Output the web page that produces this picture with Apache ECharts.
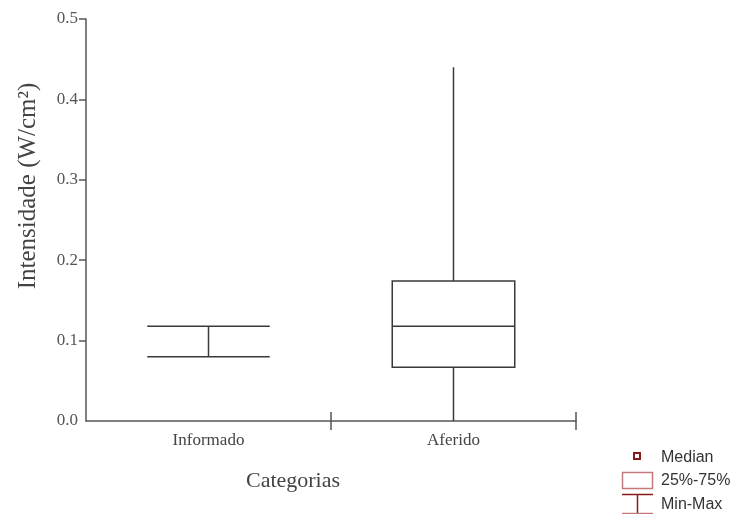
<!DOCTYPE html>
<html>
<head>
<meta charset="utf-8">
<script src="https://cdn.jsdelivr.net/npm/echarts@6/dist/echarts.min.js"></script>
<style>
  html, body { margin: 0; padding: 0; background: #fff; }
  #chart { width: 740px; height: 514px; }
</style>
</head>
<body>
<div id="chart"></div>
<script>
// Categories and box-plot statistics (W/cm²)
const categories = ['Informado', 'Aferido'];
const minValues = [0.08, 0.0];
const q1Values = [null, 0.067];
const medianValues = [null, 0.118];
const q3Values = [null, 0.174];
const maxValues = [0.118, 0.44];

const yTickLabels = [0.0, 0.1, 0.2, 0.3, 0.4, 0.5];
const yTickMarks = [0.1, 0.2, 0.3, 0.4, 0.5];
const xBoundaryTicks = [1, 2];

const serif = '"Liberation Serif", "DejaVu Serif", serif';
const sans = '"Liberation Sans", Arial, sans-serif';
const lineColor = '#3a3a3a';
const axisColor = '#555';

const boxData = categories.map((c, i) => [
  i, minValues[i], q1Values[i], medianValues[i], q3Values[i], maxValues[i]
]);

function renderBox(params, api) {
  const idx = api.value(0);
  const vMin = api.value(1), vQ1 = api.value(2), vMed = api.value(3),
        vQ3 = api.value(4), vMax = api.value(5);
  const cx = api.coord([idx, 0])[0];
  const half = api.size([1, 0])[0] * 0.25;
  const y = v => api.coord([idx, v])[1];
  const style = { stroke: lineColor, lineWidth: 1.5, fill: null };
  const kids = [];
  const line = (x1, y1, x2, y2) => kids.push({
    type: 'line', shape: { x1, y1, x2, y2 }, style
  });
  const hasBox = !isNaN(vQ1) && !isNaN(vQ3);
  if (hasBox) {
    // whiskers from the quartiles to the extremes
    line(cx, y(vMin), cx, y(vQ1));
    line(cx, y(vQ3), cx, y(vMax));
    kids.push({
      type: 'rect',
      shape: { x: cx - half, y: y(vQ3), width: half * 2, height: y(vQ1) - y(vQ3) },
      style
    });
    line(cx - half, y(vMed), cx + half, y(vMed));
  } else {
    // range only: stem with full-width end lines
    line(cx, y(vMin), cx, y(vMax));
    line(cx - half, y(vMin), cx + half, y(vMin));
    line(cx - half, y(vMax), cx + half, y(vMax));
  }
  return { type: 'group', children: kids };
}

const chart = echarts.init(document.getElementById('chart'), null, { renderer: 'canvas' });

const legendRed = '#8b1a1a';
const legendPale = '#c47a7a';

chart.setOption({
  animation: false,
  backgroundColor: '#fff',
  grid: { left: 86, right: 164, top: 19, bottom: 93 },
  xAxis: [
    {
      type: 'category',
      data: categories,
      boundaryGap: true,
      axisLine: { lineStyle: { color: axisColor, width: 1.5 } },
      axisTick: { show: false },
      axisLabel: {
        color: '#444', fontFamily: serif, fontSize: 17, margin: 11
      },
      splitLine: { show: false }
    },
    {
      type: 'value', min: 0, max: 2, position: 'bottom',
      axisLine: { show: false },
      axisLabel: { show: false },
      splitLine: { show: false },
      axisTick: {
        show: true, inside: true, length: 9, customValues: xBoundaryTicks,
        lineStyle: { color: axisColor, width: 1.5 }
      }
    },
    {
      type: 'value', min: 0, max: 2, position: 'bottom',
      axisLine: { show: false },
      axisLabel: { show: false },
      splitLine: { show: false },
      axisTick: {
        show: true, inside: false, length: 9, customValues: xBoundaryTicks,
        lineStyle: { color: axisColor, width: 1.5 }
      }
    }
  ],
  yAxis: {
    type: 'value',
    min: 0, max: 0.5, interval: 0.1,
    axisLine: { show: true, lineStyle: { color: axisColor, width: 1.5 } },
    axisTick: {
      show: true, length: 7, customValues: yTickMarks,
      lineStyle: { color: axisColor, width: 1.5 }
    },
    axisLabel: {
      color: '#555', fontFamily: serif, fontSize: 17, margin: 8,
      customValues: yTickLabels,
      formatter: v => v.toFixed(1)
    },
    splitLine: { show: false }
  },
  series: [{
    type: 'custom',
    name: 'Intensidade',
    xAxisIndex: 0,
    renderItem: renderBox,
    encode: { x: 0, y: [1, 2, 3, 4, 5] },
    data: boxData
  }],
  graphic: [
    {
      type: 'text', x: 28, y: 186, rotation: Math.PI / 2,
      style: {
        text: 'Intensidade (W/cm²)', fill: '#444', font: '25px ' + serif,
        align: 'center', verticalAlign: 'middle'
      }
    },
    {
      type: 'text', x: 293, y: 481,
      style: {
        text: 'Categorias', fill: '#444', font: '22px ' + serif,
        align: 'center', verticalAlign: 'middle'
      }
    },
    // legend
    {
      type: 'rect', shape: { x: 634, y: 453, width: 6, height: 6 },
      style: { fill: '#fff', stroke: legendRed, lineWidth: 2 }
    },
    {
      type: 'text', x: 661, y: 458,
      style: { text: 'Median', fill: '#333', font: '16px ' + sans, verticalAlign: 'middle' }
    },
    {
      type: 'rect', shape: { x: 622.5, y: 472.5, width: 30, height: 16 },
      style: { fill: '#fff', stroke: legendPale, lineWidth: 1.5 }
    },
    {
      type: 'text', x: 661, y: 481,
      style: { text: '25%-75%', fill: '#333', font: '16px ' + sans, verticalAlign: 'middle' }
    },
    {
      type: 'line', shape: { x1: 622, y1: 494.5, x2: 653, y2: 494.5 },
      style: { stroke: legendRed, lineWidth: 1.5 }
    },
    {
      type: 'line', shape: { x1: 637.5, y1: 494.5, x2: 637.5, y2: 514 },
      style: { stroke: legendRed, lineWidth: 1.5 }
    },
    {
      type: 'line', shape: { x1: 622, y1: 513.5, x2: 653, y2: 513.5 },
      style: { stroke: legendPale, lineWidth: 1.5 }
    },
    {
      type: 'text', x: 661, y: 505,
      style: { text: 'Min-Max', fill: '#333', font: '16px ' + sans, verticalAlign: 'middle' }
    }
  ]
});
</script>
</body>
</html>
